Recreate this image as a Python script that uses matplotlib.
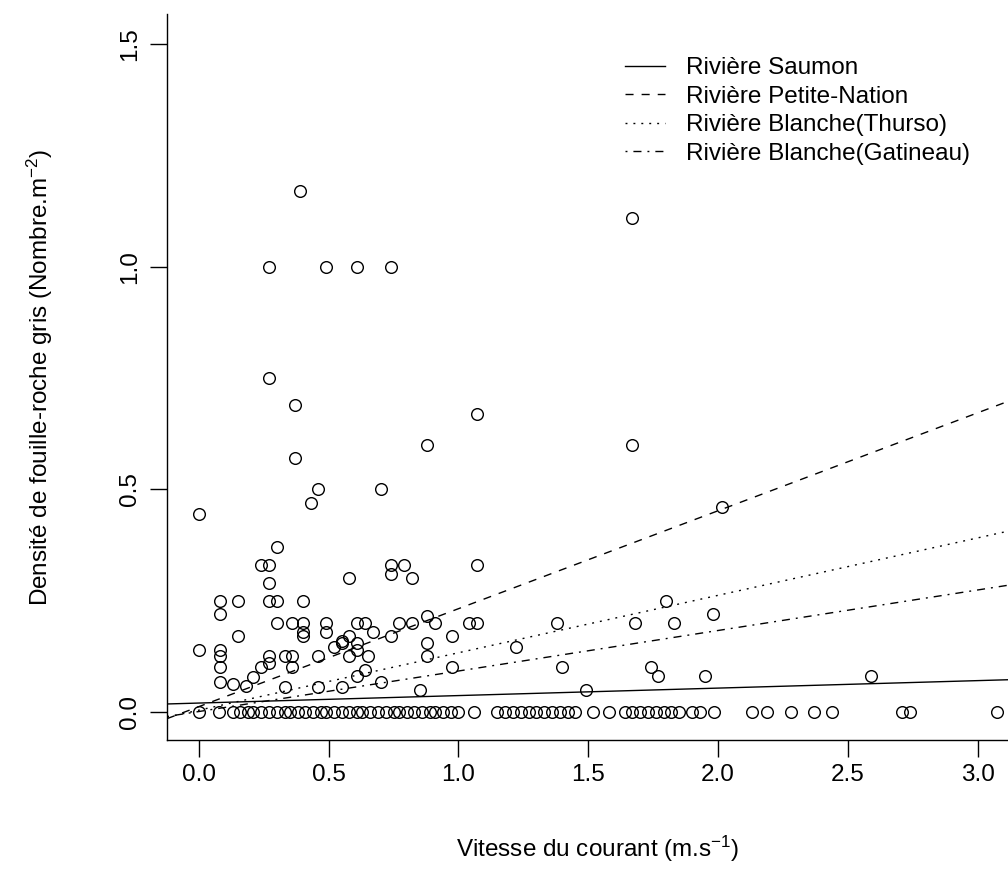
import matplotlib
matplotlib.use("Agg")
import matplotlib.pyplot as plt
from matplotlib.lines import Line2D

plt.rcParams['font.family'] = ['Liberation Sans', 'DejaVu Sans']
plt.rcParams['mathtext.fontset'] = 'custom'
plt.rcParams['mathtext.rm'] = 'Liberation Sans'
plt.rcParams['mathtext.it'] = 'Liberation Sans'
plt.rcParams['mathtext.default'] = 'regular'

# ---- data ----
vitesse_pos = [0.39, 0.27, 0.49, 0.61, 0.74, 1.67, 0.27, 0.37, 0.37, 0.46,
               0.43, 0.70, 0.88, 1.07, 1.67, 2.015, 0.00, 0.30, 0.24, 0.27,
               0.74, 0.79, 1.07, 0.58, 0.27, 0.74, 0.82, 0.08, 0.15, 0.27,
               0.30, 0.40, 0.08, 0.30, 0.36, 0.40, 0.40, 0.40, 0.49, 0.49,
               0.61, 0.64, 0.15, 0.00, 0.08, 0.08, 0.08, 0.08, 0.13, 0.18,
               0.21, 0.24, 0.27, 0.27, 0.33, 0.36, 0.36, 0.46, 0.52, 0.55,
               0.58, 0.58, 0.61, 0.61, 0.55, 0.65, 0.64, 0.61, 0.33, 0.46,
               0.55, 0.67, 0.74, 0.77, 0.82, 0.88, 0.91, 0.975, 1.04, 1.07,
               0.88, 0.88, 0.70, 0.975, 1.22, 0.85, 1.80, 1.38, 1.68, 1.83,
               1.98, 1.40, 1.74, 1.77, 1.95, 1.49, 2.59]
densite_pos = [1.17, 1.00, 1.00, 1.00, 1.00, 1.11, 0.75, 0.69, 0.57, 0.50,
               0.47, 0.50, 0.60, 0.67, 0.60, 0.46, 0.445, 0.37, 0.33, 0.33,
               0.33, 0.33, 0.33, 0.30, 0.29, 0.31, 0.30, 0.25, 0.25, 0.25,
               0.25, 0.25, 0.22, 0.20, 0.20, 0.20, 0.18, 0.17, 0.20, 0.18,
               0.20, 0.20, 0.17, 0.14, 0.14, 0.125, 0.10, 0.067, 0.063, 0.058,
               0.079, 0.10, 0.125, 0.11, 0.125, 0.125, 0.10, 0.125, 0.146, 0.16,
               0.17, 0.125, 0.14, 0.155, 0.155, 0.125, 0.094, 0.08, 0.056, 0.056,
               0.056, 0.18, 0.17, 0.20, 0.20, 0.215, 0.20, 0.17, 0.20, 0.20,
               0.155, 0.125, 0.067, 0.10, 0.146, 0.05, 0.25, 0.20, 0.20, 0.20,
               0.22, 0.10, 0.10, 0.08, 0.08, 0.05, 0.08]

vitesse_zero = [0.00, 0.077, 0.13, 0.16, 0.19, 0.21, 0.24, 0.27, 0.30, 0.33,
                0.35, 0.38, 0.41, 0.44, 0.47, 0.49, 0.52, 0.55, 0.58, 0.61,
                0.63, 0.66, 0.69, 0.72, 0.75, 0.77, 0.80, 0.83, 0.86, 0.89,
                0.91, 0.94, 0.97, 1.00, 1.06, 1.15, 1.18, 1.21, 1.24, 1.27,
                1.30, 1.33, 1.36, 1.39, 1.42, 1.45, 1.52, 1.58, 1.64, 1.67,
                1.70, 1.73, 1.76, 1.79, 1.82, 1.85, 1.90, 1.93, 1.985, 2.13,
                2.19, 2.28, 2.37, 2.44, 2.71, 2.74, 3.075]
densite_zero = [0.0] * len(vitesse_zero)

rivieres = ['Rivière Saumon', 'Rivière Petite-Nation',
            'Rivière Blanche(Thurso)', 'Rivière Blanche(Gatineau)']
intercepts = [0.020, 0.012, 0.004, 0.001]
slopes = [0.0168, 0.22, 0.129, 0.091]

x_ticks = [0.0, 0.5, 1.0, 1.5, 2.0, 2.5, 3.0]
y_ticks = [0.0, 0.5, 1.0, 1.5]

# ---- figure ----
W, H = 1008, 888
fig = plt.figure(figsize=(W / 100, H / 100), dpi=100)
left_px, right_px, top_px, bottom_px = 167, 1029, 14, 740
ax = fig.add_axes([left_px / W, 1 - bottom_px / H,
                   (right_px - left_px) / W, (bottom_px - top_px) / H])

fs = 17.5
lw = 1.0
styles = ['-', (0, (5.8, 5.8)), (0, (1.4, 4.3)), (0, (1.4, 4.3, 5.8, 4.3))]

ax.plot(vitesse_zero + vitesse_pos, densite_zero + densite_pos, 'o',
        mfc='none', mec='black', ms=8.4, mew=1.0, zorder=3)

handles = []
for name, a, b, ls in zip(rivieres, intercepts, slopes, styles):
    ax.axline((0, a), slope=b, color='black', lw=lw, linestyle=ls, zorder=2)
    handles.append(Line2D([], [], color='black', lw=lw, linestyle=ls))

ax.set_xlim(-0.123, 3.198)
ax.set_ylim(-0.063, 1.568)
ax.set_xticks(x_ticks)
ax.set_xticklabels([f"{v:.1f}" for v in x_ticks])
ax.set_yticks(y_ticks)
ax.set_yticklabels([f"{v:.1f}" for v in y_ticks])

for s in ['top', 'right']:
    ax.spines[s].set_visible(False)
for s in ['left', 'bottom']:
    ax.spines[s].set_linewidth(1.0)

ax.tick_params(axis='both', direction='out', length=12.2, width=1.0,
               labelsize=fs, colors='black')
ax.tick_params(axis='x', pad=5.4)
ax.tick_params(axis='y', pad=6.3, labelrotation=90)
for t in ax.get_yticklabels():
    t.set_va('center')

ax.set_xlabel(r"Vitesse du courant (m.s$^{-1}$)", fontsize=fs,
              va='center', ha='center')
ax.xaxis.set_label_coords(0.5, (bottom_px - 849) / (bottom_px - top_px))
ax.set_ylabel(r"Densité de fouille-roche gris (Nombre.m$^{-2}$)", fontsize=fs,
              va='center', ha='center')
ax.yaxis.set_label_coords((40 - left_px) / (right_px - left_px), 0.5)

leg = ax.legend(handles, rivieres, loc='upper left',
                bbox_to_anchor=(625 / W, 1 - 57 / H),
                bbox_transform=fig.transFigure, frameon=False, fontsize=fs,
                borderpad=0, borderaxespad=0, handlelength=1.64,
                handletextpad=0.85, labelspacing=0.27)

fig.savefig('out.png', dpi=100)
